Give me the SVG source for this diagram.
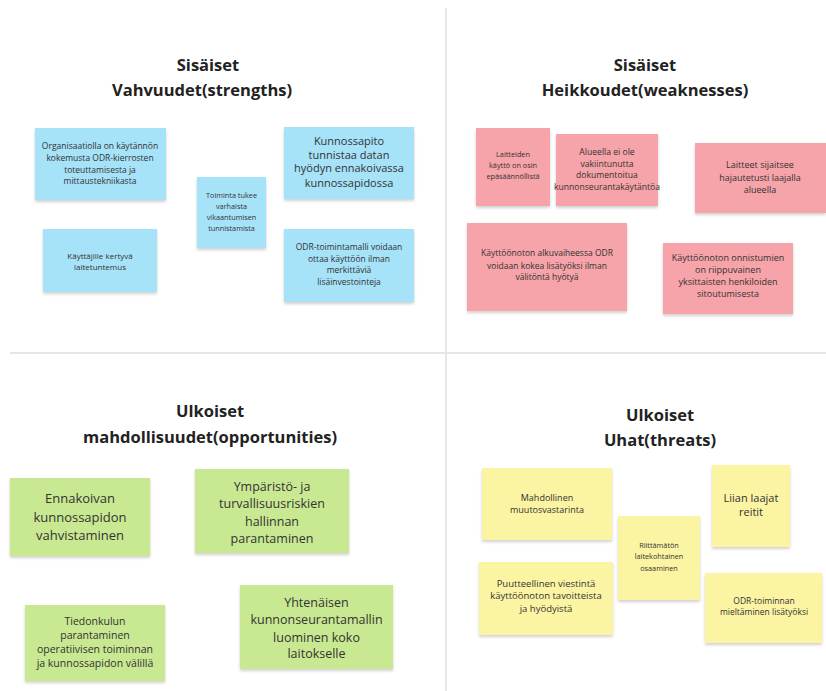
<svg xmlns="http://www.w3.org/2000/svg" width="826" height="691" viewBox="0 0 826 691">
<defs>
<filter id="sh" x="-10%" y="-10%" width="120%" height="130%">
<feDropShadow dx="0" dy="2" stdDeviation="1.5" flood-color="#000" flood-opacity="0.18"/>
</filter>
<style>
.h{font-family:"Open Sans","Liberation Sans",sans-serif;font-weight:bold;font-size:16.5px;fill:#222;text-anchor:middle}
.t{font-family:"Open Sans","Liberation Sans",sans-serif;fill:#333;text-anchor:middle}
.b{fill:#a6e2f8;filter:url(#sh)}
.r{fill:#f6a3a9;filter:url(#sh)}
.g{fill:#c8e891;filter:url(#sh)}
.y{fill:#fbf4a3;filter:url(#sh)}
.div{stroke:#e6e6e6;stroke-width:2;fill:none}
</style>
</defs>
<rect width="826" height="691" fill="#ffffff"/>
<g id="dividers">
<line class="div" x1="446" y1="8" x2="446" y2="691"/>
<line class="div" x1="10" y1="353" x2="826" y2="353"/>
</g>
<g id="headings">
<text class="h" x="208" y="71">Sisäiset</text>
<text class="h" x="202" y="96">Vahvuudet(strengths)</text>
<text class="h" x="645" y="71">Sisäiset</text>
<text class="h" x="645" y="96">Heikkoudet(weaknesses)</text>
<text class="h" x="210" y="417">Ulkoiset</text>
<text class="h" x="210" y="443">mahdollisuudet(opportunities)</text>
<text class="h" x="660" y="421">Ulkoiset</text>
<text class="h" x="660" y="446">Uhat(threats)</text>
</g>
<g id="s1"><rect class="b" x="35" y="128" width="131" height="72"/>
<text class="t" font-size="8.5"><tspan x="100" y="149">Organisaatiolla on käytännön</tspan><tspan x="100" y="161">kokemusta ODR-kierrosten</tspan><tspan x="100" y="173">toteuttamisesta ja</tspan><tspan x="100" y="184">mittaustekniikasta</tspan></text></g>
<g id="s2"><rect class="b" x="43" y="229" width="114" height="63"/>
<text class="t" font-size="8"><tspan x="100" y="259">Käyttäjille kertyvä</tspan><tspan x="100" y="270">laitetuntemus</tspan></text></g>
<g id="s3"><rect class="b" x="197" y="177" width="69" height="71"/>
<text class="t" font-size="7.3"><tspan x="231.5" y="198">Toiminta tukee</tspan><tspan x="231.5" y="209">varhaista</tspan><tspan x="231.5" y="220">vikaantumisen</tspan><tspan x="231.5" y="231">tunnistamista</tspan></text></g>
<g id="s4"><rect class="b" x="284" y="127" width="130" height="72"/>
<text class="t" font-size="11"><tspan x="349" y="145">Kunnossapito</tspan><tspan x="349" y="158.5">tunnistaa datan</tspan><tspan x="349" y="172">hyödyn ennakoivassa</tspan><tspan x="349" y="186.5">kunnossapidossa</tspan></text></g>
<g id="s5"><rect class="b" x="284" y="229" width="130" height="73"/>
<text class="t" font-size="8.5"><tspan x="349" y="250">ODR-toimintamalli voidaan</tspan><tspan x="349" y="261.5">ottaa käyttöön ilman</tspan><tspan x="349" y="273">merkittäviä</tspan><tspan x="349" y="285">lisäinvestointeja</tspan></text></g>
<g id="w1"><rect class="r" x="476" y="128" width="74" height="78"/>
<text class="t" font-size="7.3"><tspan x="513" y="157">Laitteiden</tspan><tspan x="513" y="168">käyttö on osin</tspan><tspan x="513" y="179">epäsäännöllistä</tspan></text></g>
<g id="w2"><rect class="r" x="556" y="134" width="102" height="72"/>
<text class="t" font-size="8.6"><tspan x="607" y="155">Alueella ei ole</tspan><tspan x="607" y="166.5">vakiintunutta</tspan><tspan x="607" y="178">dokumentoitua</tspan><tspan x="607" y="189.5">kunnonseurantakäytäntöa</tspan></text></g>
<g id="w3"><rect class="r" x="467" y="223" width="160" height="88"/>
<text class="t" font-size="8.5"><tspan x="547" y="256">Käyttöönoton alkuvaiheessa ODR</tspan><tspan x="547" y="268.5">voidaan kokea lisätyöksi ilman</tspan><tspan x="547" y="280">välitöntä hyötyä</tspan></text></g>
<g id="w4"><rect class="r" x="695" y="143" width="131" height="70"/>
<text class="t" font-size="9"><tspan x="760" y="168">Laitteet sijaitsee</tspan><tspan x="760" y="181">hajautetusti laajalla</tspan><tspan x="760" y="193">alueella</tspan></text></g>
<g id="w5"><rect class="r" x="663" y="243" width="130" height="71"/>
<text class="t" font-size="9"><tspan x="728" y="261">Käyttöönoton onnistumien</tspan><tspan x="728" y="273">on riippuvainen</tspan><tspan x="728" y="285">yksittaisten henkiloiden</tspan><tspan x="728" y="297">sitoutumisesta</tspan></text></g>
<g id="o1"><rect class="g" x="10" y="478" width="140" height="78"/>
<text class="t" font-size="13"><tspan x="80" y="503">Ennakoivan</tspan><tspan x="80" y="521.5">kunnossapidon</tspan><tspan x="80" y="540">vahvistaminen</tspan></text></g>
<g id="o2"><rect class="g" x="195" y="469" width="154" height="84"/>
<text class="t" font-size="12.5"><tspan x="272" y="490.5">Ympäristö- ja</tspan><tspan x="272" y="508">turvallisuusriskien</tspan><tspan x="272" y="525.5">hallinnan</tspan><tspan x="272" y="543">parantaminen</tspan></text></g>
<g id="o3"><rect class="g" x="25" y="605" width="140" height="76"/>
<text class="t" font-size="10.5"><tspan x="95" y="624.5">Tiedonkulun</tspan><tspan x="95" y="639">parantaminen</tspan><tspan x="95" y="653">operatiivisen toiminnan</tspan><tspan x="95" y="667">ja kunnossapidon välillä</tspan></text></g>
<g id="o4"><rect class="g" x="240" y="585" width="153" height="84"/>
<text class="t" font-size="12.5"><tspan x="316.5" y="606.5">Yhtenäisen</tspan><tspan x="316.5" y="624">kunnonseurantamallin</tspan><tspan x="316.5" y="641.5">luominen koko</tspan><tspan x="316.5" y="658">laitokselle</tspan></text></g>
<g id="t1"><rect class="y" x="482" y="468" width="130" height="72"/>
<text class="t" font-size="9"><tspan x="547" y="501">Mahdollinen</tspan><tspan x="547" y="513">muutosvastarinta</tspan></text></g>
<g id="t2"><rect class="y" x="618" y="516" width="82" height="84"/>
<text class="t" font-size="7.3"><tspan x="659" y="547.5">Riittämätön</tspan><tspan x="659" y="559">laitekohtainen</tspan><tspan x="659" y="570.5">osaaminen</tspan></text></g>
<g id="t3"><rect class="y" x="479" y="562" width="134" height="73"/>
<text class="t" font-size="9.5"><tspan x="546" y="586.5">Puutteellinen viestintä</tspan><tspan x="546" y="598.5">käyttöönoton tavoitteista</tspan><tspan x="546" y="612">ja hyödyistä</tspan></text></g>
<g id="t4"><rect class="y" x="712" y="465" width="78" height="82"/>
<text class="t" font-size="11"><tspan x="751" y="502">Liian laajat</tspan><tspan x="751" y="516">reitit</tspan></text></g>
<g id="t5"><rect class="y" x="705" y="573" width="117" height="70"/>
<text class="t" font-size="8.5"><tspan x="764" y="604">ODR-toiminnan</tspan><tspan x="764" y="615">mieltäminen lisätyöksi</tspan></text></g>
</svg>
